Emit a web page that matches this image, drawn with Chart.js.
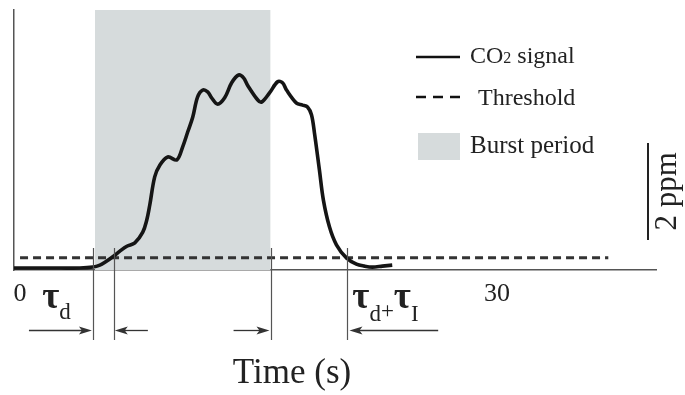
<!DOCTYPE html>
<html>
<head>
<meta charset="utf-8">
<script src="https://cdn.jsdelivr.net/npm/chart.js@4.4.1/dist/chart.umd.min.js"></script>
<style>
  html, body { margin: 0; padding: 0; background: #ffffff; }
  #wrap { width: 685px; height: 395px; }
</style>
</head>
<body>
<div id="wrap"><canvas id="c" width="685" height="395"></canvas></div>
<script>
// CO2 signal trace (time in s, concentration above baseline in ppm)
const signalTime = [-0.38, 1.26, 2.51, 3.77, 4.58, 5.02, 5.34, 5.90, 6.28, 6.72, 7.22, 7.72, 7.97, 8.16, 8.47, 8.79,
  9.29, 9.86, 10.23, 10.55, 10.86, 11.17, 11.49, 11.80, 12.05, 12.43, 12.87, 13.31, 13.75, 14.06, 14.31,
  14.94, 15.19, 15.69, 16.20, 16.51, 16.76, 17.39, 17.77, 18.08, 18.33, 18.52, 18.83, 19.08, 19.46,
  19.90, 20.53, 21.16, 21.66, 22.16, 22.79, 23.41];
const signalPpm = [0.04, 0.04, 0.04, 0.04, 0.06, 0.10, 0.16, 0.29, 0.39, 0.49, 0.56, 0.78, 1.03, 1.34, 1.92, 2.16,
  2.33, 2.27, 2.54, 2.85, 3.15, 3.57, 3.71, 3.67, 3.55, 3.42, 3.55, 3.86, 4.02, 3.96, 3.81,
  3.51, 3.46, 3.65, 3.88, 3.86, 3.71, 3.44, 3.40, 3.36, 3.20, 2.82, 2.06, 1.44, 0.89,
  0.52, 0.25, 0.12, 0.08, 0.06, 0.08, 0.10];

const thresholdPpm = 0.25;
const thresholdSpan = [0, 37.0];
const burstPeriod = [4.71, 15.76];
const yMaxPpm = 5.36;

// timing markers: delay start, threshold crossing, burst end, return below threshold
const markerTimes = [4.58, 5.90, 15.76, 20.59];
const arrowTails = [0.56, 8.04, 13.43, 26.3];
const arrowHeads = [4.52, 5.96, 15.69, 20.72];
const xTickValues = [0, 30];

// scale bar
const scaleBarPpm = 2;
const scaleBarBase = 0.62;

const SERIF = '"Liberation Serif", "DejaVu Serif", serif';
const INK = '#222222';

function xy(xs, ys) { return xs.map((x, i) => ({ x: x, y: ys[i] })); }

// draw a string made of [text, size, dy, weight] runs, left to right
function runs(ctx, x, y, parts) {
  let cx = x;
  parts.forEach(([t, size, dy, weight]) => {
    ctx.font = (weight || 'normal') + ' ' + size + 'px ' + SERIF;
    ctx.fillText(t, cx, y + (dy || 0));
    cx += ctx.measureText(t).width;
  });
}

function arrow(ctx, x0, x1, y) {
  const dir = Math.sign(x1 - x0);
  ctx.beginPath();
  ctx.moveTo(x0, y);
  ctx.lineTo(x1 - dir * 6, y);
  ctx.stroke();
  ctx.beginPath();
  ctx.moveTo(x1, y);
  ctx.lineTo(x1 - dir * 13, y - 4);
  ctx.lineTo(x1 - dir * 10, y);
  ctx.lineTo(x1 - dir * 13, y + 4);
  ctx.closePath();
  ctx.fill();
}

const annotations = {
  id: 'annotations',
  afterDatasetsDraw(chart) {
    const { ctx, scales: { x, y } } = chart;
    const base = y.getPixelForValue(0);
    ctx.save();
    // vertical marker lines
    ctx.strokeStyle = '#555555';
    ctx.lineWidth = 1.2;
    markerTimes.forEach(t => {
      const px = Math.round(x.getPixelForValue(t)) + 0.5;
      ctx.beginPath();
      ctx.moveTo(px, base - 22);
      ctx.lineTo(px, base + 70);
      ctx.stroke();
    });
    // arrows
    ctx.strokeStyle = '#333333';
    ctx.fillStyle = '#333333';
    ctx.lineWidth = 1.3;
    arrowTails.forEach((t, i) => {
      arrow(ctx, x.getPixelForValue(t), x.getPixelForValue(arrowHeads[i]), base + 60.5);
    });

    ctx.fillStyle = INK;
    ctx.textBaseline = 'alphabetic';
    ctx.textAlign = 'left';
    // delay labels
    runs(ctx, x.getPixelForValue(1.4), base + 38, [['τ', 37, 0, 'bold'], ['d', 23, 11]]);
    runs(ctx, x.getPixelForValue(20.9), base + 38, [['τ', 37, 0, 'bold'], ['d', 23, 13], ['+', 23, 10], ['τ', 37, 0, 'bold'], ['I', 23, 13]]);

    // axis title
    ctx.font = '35px ' + SERIF;
    ctx.textAlign = 'center';
    ctx.fillText('Time (s)', 292, 383);

    // legend
    ctx.textAlign = 'left';
    ctx.strokeStyle = '#111111';
    ctx.lineWidth = 2.5;
    ctx.beginPath(); ctx.moveTo(416, 57); ctx.lineTo(460, 57); ctx.stroke();
    ctx.setLineDash([10, 7]);
    ctx.beginPath(); ctx.moveTo(416, 97); ctx.lineTo(460, 97); ctx.stroke();
    ctx.setLineDash([]);
    ctx.fillStyle = '#d6dbdc';
    ctx.fillRect(418, 133, 42, 27);
    ctx.fillStyle = INK;
    runs(ctx, 470, 63, [['CO', 24], ['2', 16], [' signal', 24]]);
    runs(ctx, 478, 105, [['Threshold', 24]]);
    runs(ctx, 470, 153, [['Burst period', 25]]);

    // scale bar
    const top = y.getPixelForValue(scaleBarBase + scaleBarPpm);
    const bot = y.getPixelForValue(scaleBarBase);
    ctx.strokeStyle = '#222222';
    ctx.lineWidth = 2;
    ctx.beginPath(); ctx.moveTo(648, top); ctx.lineTo(648, bot); ctx.stroke();
    ctx.translate(676, (top + bot) / 2);
    ctx.rotate(-Math.PI / 2);
    ctx.textAlign = 'center';
    ctx.font = '31px ' + SERIF;
    ctx.fillText('2 ppm', 0, 0);
    ctx.restore();
  }
};

new Chart(document.getElementById('c'), {
  type: 'line',
  data: {
    datasets: [
      {
        label: 'CO2 signal',
        data: xy(signalTime, signalPpm),
        borderColor: '#151515',
        borderWidth: 3.6,
        pointRadius: 0,
        tension: 0.35,
        fill: false,
        order: 1
      },
      {
        label: 'Threshold',
        data: xy(thresholdSpan, [thresholdPpm, thresholdPpm]),
        borderColor: '#333333',
        borderWidth: 3,
        borderDash: [8, 5],
        pointRadius: 0,
        fill: false,
        order: 2
      },
      {
        label: 'Burst period',
        data: xy(burstPeriod, [yMaxPpm, yMaxPpm]),
        borderWidth: 0,
        borderColor: 'rgba(0,0,0,0)',
        backgroundColor: '#d6dbdc',
        pointRadius: 0,
        fill: 'start',
        order: 3
      }
    ]
  },
  options: {
    responsive: false,
    animation: false,
    devicePixelRatio: 1,
    layout: { padding: { left: 14, top: 10, right: 29, bottom: 0 } },
    plugins: { legend: { display: false }, tooltip: { enabled: false } },
    scales: {
      x: {
        type: 'linear',
        min: -0.38,
        max: 40,
        grid: { display: false, drawTicks: false },
        border: { display: true, color: '#555555', width: 1.5 },
        afterBuildTicks: s => { s.ticks = xTickValues.map(v => ({ value: v })); },
        afterFit: s => { s.height = 125; },
        ticks: {
          padding: 9,
          maxRotation: 0,
          color: INK,
          font: { family: SERIF, size: 26 },
          callback: v => String(v)
        }
      },
      y: {
        type: 'linear',
        min: 0,
        max: yMaxPpm,
        grid: { display: false, drawTicks: false },
        border: { display: true, color: '#555555', width: 1.5 },
        ticks: { display: false },
        afterFit: s => { s.width = 0; }
      }
    }
  },
  plugins: [annotations]
});
</script>
</body>
</html>
